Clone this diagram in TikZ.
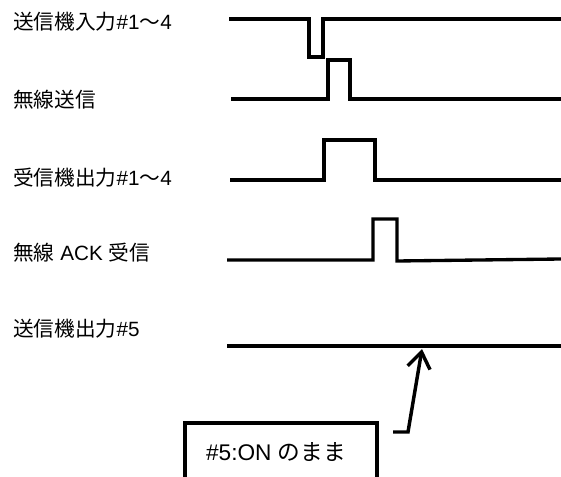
\documentclass[tikz,border=0pt]{standalone}
\usepackage{fontspec}
\setmainfont{Liberation Sans}
\newfontfamily\jpfont{Noto Sans CJK JP}
\newcommand{\jpt}[1]{{\jpfont #1}}
\usetikzlibrary{arrows.meta}
\tikzset{
  lbl/.style={anchor=west, inner sep=0pt, font=\fontsize{15.5pt}{18pt}\selectfont},
  sig/.style={line width=2.5pt, line join=miter},
  boxline/.style={line width=2.5pt},
  note/.style={inner sep=0pt, font=\fontsize{17pt}{20pt}\selectfont},
  callout/.style={line width=2.6pt, -{Straight Barb[length=12pt,width=17pt,line width=2.6pt]}}
}
\begin{document}
\begin{tikzpicture}[x=0.75pt,y=-0.75pt]
\useasboundingbox (0,0) rectangle (561,477);
% labels
\node[lbl] (n1) at (13,22) {\jpt{送信機入力}\#1\jpt{～}4};
\node[lbl] (n2) at (13,100) {\jpt{無線送信}};
\node[lbl] (n3) at (13,178) {\jpt{受信機出力}\#1\jpt{～}4};
\node[lbl] (n4) at (13,253) {\jpt{無線} ACK \jpt{受信}};
\node[lbl] (n5) at (13,329) {\jpt{送信機出力}\#5};
% signals
\draw[sig] (229,19) -- (309,19) -- (309,57) -- (323,57) -- (323,19) -- (561,19);
\draw[sig] (231,99) -- (328,99) -- (328,60) -- (350,60) -- (350,99) -- (561,99);
\draw[sig] (230,180) -- (324,180) -- (324,140) -- (375,140) -- (375,180) -- (561,180);
\draw[sig] (227,260) -- (373,260) -- (373,219) -- (397,219) -- (397,261) -- (561,259);
\draw[sig] (227,346) -- (561,346);
\coordinate (t5) at (422,349);
% note box (open at the bottom edge)
\draw[boxline] (185,480) -- (185,423) -- (377,423) -- (377,480);
\node[note] (nb) at (276,452) {\#5:ON \jpt{のまま}};
\coordinate (a0) at (393,432);
\coordinate (a1) at (408,432);
\draw[callout] (a0) -- (a1) -- (t5);
\end{tikzpicture}
\end{document}
